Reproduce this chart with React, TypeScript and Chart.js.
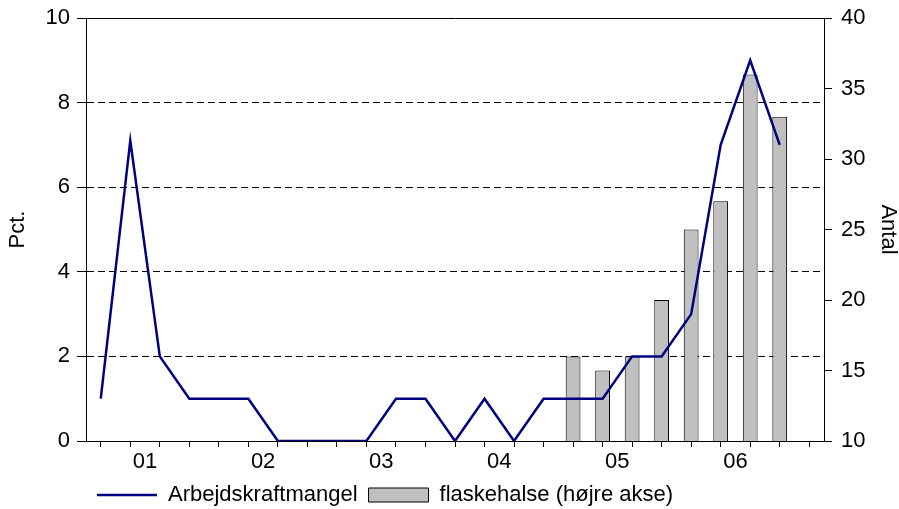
import React, { useEffect, useRef } from "react";
import { Chart, registerables } from "chart.js";

Chart.register(...registerables);

// Quarters (category axis), one slot per quarter
const quarters = [
  "2000K3", "2000K4",
  "2001K1", "2001K2", "2001K3", "2001K4",
  "2002K1", "2002K2", "2002K3", "2002K4",
  "2003K1", "2003K2", "2003K3", "2003K4",
  "2004K1", "2004K2", "2004K3", "2004K4",
  "2005K1", "2005K2", "2005K3", "2005K4",
  "2006K1", "2006K2", "2006K3",
];

// Year tick labels shown at the start of each year
const yearLabels: Record<string, string> = {
  "2001K1": "01",
  "2002K1": "02",
  "2003K1": "03",
  "2004K1": "04",
  "2005K1": "05",
  "2006K1": "06",
};

// Arbejdskraftmangel (Pct., left axis)
const arbejdskraftmangel: (number | null)[] = [
  1, 7.1, 2, 1, 1, 1, 0, 0, 0, 0, 1, 1, 0, 1, 0, 1, 1, 1, 2, 2, 3, 7, 9, 7, null,
];

// flaskehalse (Antal, right axis)
const flaskehalse: (number | null)[] = [
  null, null, null, null, null, null, null, null, null, null, null, null,
  null, null, null, null, 16, 15, 16, 20, 25, 27, 36, 33, null,
];

const leftTicks = { min: 0, max: 10, step: 2 };
const rightTicks = { min: 10, max: 40, step: 5 };

const FONT = "'Liberation Sans', Arial, Helvetica, sans-serif";

export default function App() {
  const canvasRef = useRef<HTMLCanvasElement | null>(null);

  useEffect(() => {
    const canvas = canvasRef.current;
    if (!canvas) return;

    const linePts = arbejdskraftmangel
      .map((v, i) => (v === null ? null : { x: i + 0.5, y: v }))
      .filter((p) => p !== null);
    const barPts = flaskehalse
      .map((v, i) => (v === null ? null : { x: i + 0.5, y: v }))
      .filter((p) => p !== null);

    Chart.defaults.color = "#000";
    Chart.defaults.font.family = FONT;

    const chart = new Chart(canvas, {
      type: "line",
      data: {
        datasets: [
          {
            type: "line",
            label: "Arbejdskraftmangel",
            data: linePts as any,
            borderColor: "#000080",
            backgroundColor: "#000080",
            borderWidth: 2.5,
            pointRadius: 0,
            pointStyle: "line",
            tension: 0,
            xAxisID: "x",
            yAxisID: "y",
          },
          {
            type: "bar",
            label: "flaskehalse (højre akse)",
            data: barPts as any,
            backgroundColor: "#c0c0c0",
            borderColor: "#000",
            borderWidth: 1,
            pointStyle: "rect",
            barPercentage: 0.5,
            categoryPercentage: 1,
            xAxisID: "x",
            yAxisID: "y2",
          } as any,
        ],
      },
      options: {
        animation: false,
        responsive: false,
        maintainAspectRatio: false,
        layout: { padding: { top: 18, left: 0, right: 0, bottom: -7 } },
        plugins: {
          tooltip: { enabled: false },
          legend: {
            display: true,
            position: "bottom",
            align: "start",
            fullSize: false,
            labels: {
              usePointStyle: true,
              pointStyleWidth: 60,
              boxHeight: 14,
              padding: 11,
              color: "#000",
              font: { family: FONT, size: 22 },
            },
          },
        },
        scales: {
          x: {
            type: "linear",
            min: 0,
            max: quarters.length,
            offset: false,
            afterFit: (s: any) => {
              s.height = 32;
            },
            ticks: {
              stepSize: 1,
              autoSkip: false,
              maxRotation: 0,
              minRotation: 0,
              padding: 2,
              color: "#000",
              font: { family: FONT, size: 22 },
              callback: (v: any) => {
                const q = quarters[Math.round(Number(v))];
                return q && yearLabels[q] ? yearLabels[q] : "";
              },
            },
            grid: {
              drawOnChartArea: false,
              drawTicks: true,
              tickLength: 6,
              color: "#000",
              tickColor: "#000",
            },
            border: { display: true, color: "#000", width: 1 },
          },
          y: {
            type: "linear",
            position: "left",
            min: leftTicks.min,
            max: leftTicks.max,
            afterFit: (s: any) => {
              s.width = 86;
              s.paddingTop = 0;
              s.paddingBottom = 0;
            },
            ticks: {
              stepSize: leftTicks.step,
              padding: 7,
              color: "#000",
              font: { family: FONT, size: 22 },
            },
            title: {
              display: true,
              text: "Pct.",
              color: "#000",
              font: { family: FONT, size: 22, lineHeight: 1 },
              padding: { top: 7, bottom: 0 },
            },
            grid: {
              drawOnChartArea: true,
              tickLength: 9,
              color: (ctx: any) =>
                ctx.tick && ctx.tick.value === leftTicks.min ? "rgba(0,0,0,0)" : "#000",
              tickColor: "#000",
              lineWidth: 1,
            },
            border: {
              display: true,
              color: "#000",
              width: 1,
              dash: (ctx: any) =>
                ctx.tick && ctx.tick.value === leftTicks.max ? [] : [7, 4],
            },
          },
          y2: {
            type: "linear",
            position: "right",
            min: rightTicks.min,
            max: rightTicks.max,
            afterFit: (s: any) => {
              s.width = 75;
              s.paddingTop = 0;
              s.paddingBottom = 0;
            },
            ticks: {
              stepSize: rightTicks.step,
              padding: 9,
              color: "#000",
              font: { family: FONT, size: 22 },
            },
            title: {
              display: true,
              text: "Antal",
              color: "#000",
              font: { family: FONT, size: 22, lineHeight: 1 },
              padding: { top: 0, bottom: 0 },
            },
            grid: {
              drawOnChartArea: false,
              tickLength: 8,
              color: "#000",
              tickColor: "#000",
            },
            border: { display: true, color: "#000", width: 1 },
          },
        },
      } as any,
    });

    return () => {
      chart.destroy();
    };
  }, []);

  return (
    <div style={{ position: "absolute", left: 0, top: 0, width: 899, height: 509, background: "#fff" }}>
      <canvas ref={canvasRef} width={899} height={509} style={{ display: "block", width: 899, height: 509 }} />
    </div>
  );
}
